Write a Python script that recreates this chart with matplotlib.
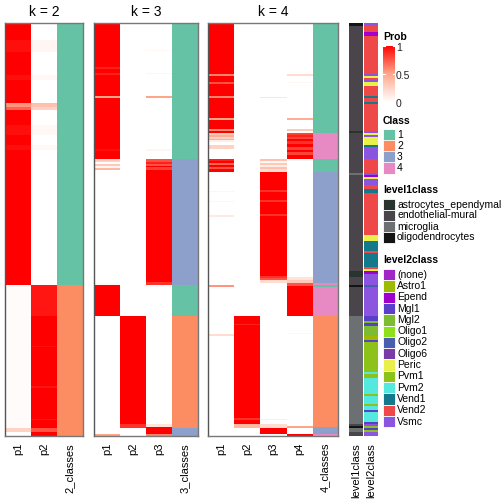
import numpy as np
import matplotlib
matplotlib.use("Agg")
import matplotlib.pyplot as plt
from matplotlib.colors import LinearSegmentedColormap, to_rgb
from matplotlib.patches import Rectangle

plt.rcParams["font.family"] = ["Liberation Sans", "DejaVu Sans"]

# --------------------------------------------------
# Data: samples in display order, runs of (start_row, value)
# rows are counted from the top of the heatmap (413 rows)
# --------------------------------------------------
n_rows = 413
TOP = 23

def runs(pairs):
    out = np.zeros(n_rows)
    starts = [p[0] - TOP for p in pairs] + [n_rows]
    for i, (_, v) in enumerate(pairs):
        out[max(starts[i], 0):starts[i + 1]] = v
    return out

# k = 2
k2_p1 = [(23, 1.0), (40, 0.95), (52, 1.0), (75, 0.95), (80, 1.0), (103, 0.55), (107, 0.7),
         (110, 1.0), (125, 0.95), (135, 1.0), (145, 0.95), (150, 1.0), (285, 0.02),
         (428, 0.25), (432, 0.0)]
k2_p2 = [(23, 0.0), (40, 0.05), (52, 0.0), (75, 0.04), (80, 0.0), (103, 0.35), (107, 0.25),
         (110, 0.0), (125, 0.04), (135, 0.0), (145, 0.04), (150, 0.0), (285, 0.93),
         (316, 1.0), (346, 0.95), (347, 1.0), (386, 0.93), (388, 1.0), (419, 0.93),
         (420, 1.0), (428, 0.75), (432, 1.0)]
k2_cls = [(23, 1), (285, 2)]

# k = 3
k3_p1 = [(23, 1.0), (67, 0.9), (69, 1.0), (73, 0.9), (75, 1.0), (96, 0.5), (98, 1.0),
         (149, 0.95), (151, 1.0), (159, 0.25), (162, 0.02), (164, 0.3), (166, 0.05),
         (168, 0.4), (170, 0.0), (283, 0.05), (285, 1.0), (316, 0.0), (434, 0.5)]
k3_p2 = [(23, 0.0), (316, 1.0), (424, 0.85), (428, 0.0)]
k3_p3 = [(23, 0.0), (50, 0.04), (51, 0.0), (73, 0.05), (74, 0.0), (96, 0.5), (98, 0.0),
         (149, 0.05), (151, 0.0), (159, 0.75), (162, 0.9), (164, 0.75), (166, 1.0),
         (167, 0.8), (170, 1.0), (282, 0.85), (285, 0.0), (424, 0.15), (427, 1.0),
         (434, 0.6)]
k3_cls = [(23, 1), (159, 3), (285, 1), (316, 2), (428, 3)]

# k = 4
k4_p1 = [(23, 1.0), (74, 0.6), (76, 1.0), (82, 0.75), (84, 1.0), (96, 0.6), (98, 1.0),
         (118, 0.5), (120, 1.0), (129, 0.6), (131, 1.0), (133, 0.3), (135, 0.45),
         (137, 0.25), (139, 0.45), (140, 0.1), (142, 0.0), (145, 0.25), (149, 0.0),
         (153, 0.0), (159, 0.9), (161, 1.0), (163, 0.7), (165, 1.0), (167, 0.75),
         (169, 1.0), (172, 0.0), (191, 0.05), (192, 0.0), (201, 0.05), (202, 0.0),
         (215, 0.12), (217, 0.0), (285, 0.55), (287, 0.0), (334, 0.2), (336, 0.0)]
k4_p2 = [(23, 0.0), (316, 1.0), (324, 0.9), (325, 1.0), (418, 0.85), (420, 1.0),
         (424, 0.4), (428, 0.0)]
k4_p3 = [(23, 0.0), (97, 0.15), (98, 0.0), (159, 0.35), (161, 0.05), (163, 0.3),
         (165, 0.1), (167, 0.35), (169, 0.2), (172, 1.0), (190, 0.85), (192, 1.0),
         (200, 0.85), (202, 1.0), (214, 0.85), (216, 1.0), (276, 0.85), (278, 0.75),
         (280, 0.2), (283, 0.0), (419, 0.1), (420, 0.0), (424, 0.2), (428, 1.0), (434, 0.0)]
k4_p4 = [(23, 0.0), (74, 0.2), (76, 0.0), (82, 0.05), (83, 0.0), (118, 0.45), (120, 0.0),
         (129, 0.3), (131, 0.0), (133, 0.8), (135, 0.9), (137, 0.8), (139, 1.0),
         (141, 0.85), (144, 1.0), (147, 0.8), (150, 1.0), (152, 0.8), (155, 1.0),
         (159, 0.0), (277, 0.15), (280, 0.3), (283, 0.75), (286, 1.0), (316, 0.0),
         (333, 0.05), (334, 0.0), (426, 0.5), (428, 0.0), (434, 1.0)]
k4_cls = [(23, 1), (133, 4), (159, 1), (172, 3), (283, 4), (285, 1), (287, 4),
          (316, 2), (427, 3), (434, 4)]

# sample annotations (codes index into the name lists below)
level1_names = ["astrocytes_ependymal", "endothelial-mural", "microglia", "oligodendrocytes"]
level1_runs = [(23, 3), (26, 1), (131, 0), (133, 1), (173, 2), (175, 1), (271, 0),
               (277, 1), (285, 3), (287, 1), (316, 2), (424, 1), (426, 3), (428, 2),
               (432, 1)]

level2_names = ["(none)", "Astro1", "Epend", "Mgl1", "Mgl2", "Oligo1", "Oligo2",
                "Oligo6", "Peric", "Pvm1", "Pvm2", "Vend1", "Vend2", "Vsmc"]
level2_runs = [(23, 13), (26, 12), (32, 2), (36, 12), (74, 13), (76, 8), (78, 12),
               (80, 13), (82, 8), (86, 12), (96, 11), (98, 12), (102, 11), (104, 12),
               (131, 13), (133, 8), (135, 13), (137, 8), (145, 11), (147, 13), (159, 12),
               (173, 13), (175, 2), (177, 8), (179, 13), (185, 12), (189, 11), (193, 12),
               (235, 8), (241, 11), (251, 12), (253, 11), (267, 12), (269, 8), (271, 2),
               (274, 13), (285, 6), (287, 13), (316, 3), (321, 4), (323, 3), (326, 4),
               (336, 1), (340, 3), (342, 9), (372, 10), (374, 9), (378, 10), (394, 9),
               (396, 10), (404, 9), (406, 10), (410, 3), (412, 10), (422, 3), (424, 13),
               (426, 9), (428, 3), (430, 9), (432, 13)]

class_colors = ["#66C2A5", "#FC8D62", "#8DA0CB", "#E78AC3"]
level1_colors = ["#29342F", "#4A454A", "#6D7073", "#141414"]
level2_colors = ["#A126C8", "#9DBB00", "#A000CC", "#5A40C8", "#7DBB33", "#8FE01C",
                 "#4A5EAF", "#7A3BA8", "#E8F04A", "#8DC21A", "#55E8DE", "#15798C",
                 "#EF4848", "#8B55E0"]

prob_cmap = LinearSegmentedColormap.from_list(
    "prob", [(0, "#FFFFFF"), (0.5, "#FFA68A"), (1, "#FF0000")])

# --------------------------------------------------
# Layout helpers (pixel coordinates, 504 x 504)
# --------------------------------------------------
W = H = 504
fig = plt.figure(figsize=(5.04, 5.04), dpi=100)

def px_axes(x0, y0, x1, y1):
    return fig.add_axes([x0 / W, 1 - y1 / H, (x1 - x0) / W, (y1 - y0) / H])

def panel(x0, title, prob_cols, cls_runs, labels):
    ncol = len(prob_cols) + 1
    x1 = x0 + 26 * ncol
    ax = px_axes(x0, TOP, x1, 436)
    img = np.zeros((n_rows, ncol, 3))
    for j, col in enumerate(prob_cols):
        img[:, j, :] = prob_cmap(runs(col))[:, :3]
    cls = runs(cls_runs).astype(int)
    img[:, -1, :] = np.array([to_rgb(class_colors[c - 1]) for c in cls])
    ax.imshow(img, aspect="auto", interpolation="nearest",
              extent=[0, ncol, n_rows, 0])
    ax.set_xticks(np.arange(ncol) + 0.5)
    ax.set_xticklabels(labels, rotation=90, fontsize=8)
    ax.tick_params(axis="x", length=0, pad=5)
    ax.set_yticks([])
    for s in ax.spines.values():
        s.set_color("#777777")
        s.set_linewidth(1.0)
    ax.spines["left"].set_color("#555555")
    fig.text((x0 + x1) / 2 / W, 1 - 12 / H, title, ha="center", va="center",
             fontsize=10)

panel(5, "k = 2", [k2_p1, k2_p2], k2_cls, ["p1", "p2", "2_classes"])
panel(94, "k = 3", [k3_p1, k3_p2, k3_p3], k3_cls, ["p1", "p2", "p3", "3_classes"])
panel(208, "k = 4", [k4_p1, k4_p2, k4_p3, k4_p4], k4_cls,
      ["p1", "p2", "p3", "p4", "4_classes"])

# annotation columns
for x0, x1, rl, colors, name in [(349, 363, level1_runs, level1_colors, "level1class"),
                                 (364, 378, level2_runs, level2_colors, "level2class")]:
    ax = px_axes(x0, TOP, x1, 436)
    codes = runs(rl).astype(int)
    img = np.array([to_rgb(colors[c]) for c in codes])[:, None, :]
    ax.imshow(img, aspect="auto", interpolation="nearest", extent=[0, 1, n_rows, 0])
    ax.set_xticks([0.5])
    ax.set_xticklabels([name], rotation=90, fontsize=8)
    ax.tick_params(axis="x", length=0, pad=5)
    ax.set_yticks([])
    for s in ax.spines.values():
        s.set_visible(False)

# --------------------------------------------------
# Legends
# --------------------------------------------------
lx = 383

fig.text(lx / W, 1 - 37 / H, "Prob", fontsize=7.5, fontweight="bold",
         ha="left", va="center")
cax = px_axes(lx, 46, lx + 12, 102)
grad = np.linspace(1, 0, 200)[:, None]
cax.imshow(grad, cmap=prob_cmap, aspect="auto", extent=[0, 1, 0, 1], vmin=0, vmax=1)
cax.set_axis_off()
for v in [1.0, 0.5, 0.0]:
    cax.plot([0, 0.2], [v, v], color="white", lw=0.8)
    cax.plot([0.8, 1], [v, v], color="white", lw=0.8)
    lab = "1" if v == 1 else ("0.5" if v == 0.5 else "0")
    fig.text((lx + 13) / W, 1 - (48 + (1 - v) * 56) / H, lab, fontsize=7.5,
             ha="left", va="center", color="#222222")
cax.set_xlim(0, 1)
cax.set_ylim(0, 1)

def discrete_legend(title, y_title, y_first, names, colors, step):
    fig.text(lx / W, 1 - y_title / H, title, fontsize=7.5, fontweight="bold",
             ha="left", va="center")
    for i, (nm, c) in enumerate(zip(names, colors)):
        y0 = y_first + i * step
        fig.patches.append(Rectangle((lx / W, 1 - (y0 + step) / H), 12 / W, step / H,
                                     transform=fig.transFigure, facecolor=c,
                                     edgecolor="white", linewidth=0.6))
        fig.text((lx + 14) / W, 1 - (y0 + step / 2) / H, nm, fontsize=7.5,
                 ha="left", va="center")

discrete_legend("Class", 121, 129.5, ["1", "2", "3", "4"], class_colors, 11)
discrete_legend("level1class", 190, 199, level1_names, level1_colors, 11)
discrete_legend("level2class", 260, 269, level2_names, level2_colors, 11.3)

fig.savefig("out.png", dpi=100)
